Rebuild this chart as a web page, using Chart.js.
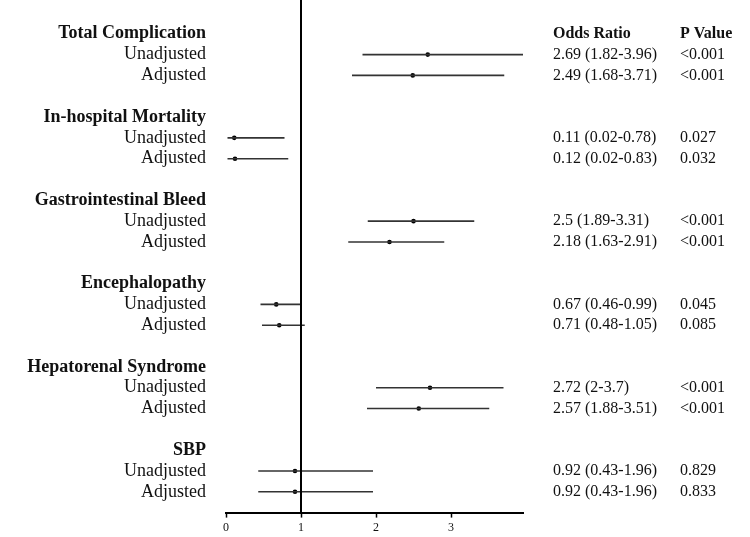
<!DOCTYPE html>
<html>
<head>
<meta charset="utf-8">
<script src="https://cdn.jsdelivr.net/npm/chart.js@4"></script>
<style>
  html, body { margin: 0; padding: 0; background: #fff; }
  #wrap { width: 750px; height: 537px; position: relative; }
</style>
</head>
<body>
<div id="wrap"><canvas id="forest"></canvas></div>
<script>
const outcomes = ["Total Complication", "In-hospital Mortality", "Gastrointestinal Bleed", "Encephalopathy", "Hepatorenal Syndrome", "SBP"];
const rowLabels = ["Unadjusted", "Adjusted"];

const unadjOR = [2.69, 0.11, 2.5, 0.67, 2.72, 0.92];
const unadjLo = [1.82, 0.02, 1.89, 0.46, 2, 0.43];
const unadjHi = [3.96, 0.78, 3.31, 0.99, 3.7, 1.96];
const unadjP = ["<0.001", "0.027", "<0.001", "0.045", "<0.001", "0.829"];

const adjOR = [2.49, 0.12, 2.18, 0.71, 2.57, 0.92];
const adjLo = [1.68, 0.02, 1.63, 0.48, 1.88, 0.43];
const adjHi = [3.71, 0.83, 2.91, 1.05, 3.51, 1.96];
const adjP = ["<0.001", "0.032", "<0.001", "0.085", "<0.001", "0.833"];

const xTicks = [0, 1, 2, 3];

// each outcome takes 4 rows: header, unadjusted, adjusted, blank
const rows = [];
outcomes.forEach((name, k) => {
  const base = k * 4;
  rows.push({ y: base, text: name, header: true });
  rows.push({ y: base + 1, text: rowLabels[0], or: unadjOR[k], lo: unadjLo[k], hi: unadjHi[k], p: unadjP[k] });
  rows.push({ y: base + 2, text: rowLabels[1], or: adjOR[k], lo: adjLo[k], hi: adjHi[k], p: adjP[k] });
});

const datasets = [];

// reference line at OR = 1, runs up to the top edge
datasets.push({
  type: "line",
  data: [{ x: 1, y: -1.7 }, { x: 1, y: 23 }],
  borderColor: "#000",
  borderWidth: 2,
  pointRadius: 0,
  clip: false
});

rows.filter((r) => !r.header).forEach((r) => {
  datasets.push({
    type: "line",
    data: [{ x: r.lo, y: r.y }, { x: r.hi, y: r.y }],
    borderColor: "#333",
    borderWidth: 1.6,
    pointRadius: 0
  });
});

datasets.push({
  type: "scatter",
  data: rows.filter((r) => !r.header).map((r) => ({ x: r.or, y: r.y })),
  backgroundColor: "#000",
  borderColor: "#000",
  pointRadius: 2.3,
  borderWidth: 0
});

const textPlugin = {
  id: "forestText",
  afterDraw(chart) {
    const ctx = chart.ctx;
    const ys = chart.scales.y;
    ctx.save();
    ctx.fillStyle = "#111";
    ctx.textBaseline = "middle";
    rows.forEach((r) => {
      const py = ys.getPixelForValue(r.y);
      ctx.textAlign = "right";
      ctx.font = (r.header ? "bold " : "") + "18px 'Liberation Serif'";
      ctx.fillText(r.text, 206, py);
      if (!r.header) {
        ctx.textAlign = "left";
        ctx.font = "16px 'Liberation Serif'";
        ctx.fillText(`${r.or} (${r.lo}-${r.hi})`, 553, py);
        ctx.fillText(r.p, 680, py);
      }
    });
    const hy = ys.getPixelForValue(0);
    ctx.textAlign = "left";
    ctx.font = "bold 16px 'Liberation Serif'";
    ctx.fillText("Odds Ratio", 553, hy);
    ctx.fillText("P Value", 680, hy);
    ctx.restore();
  }
};

new Chart(document.getElementById("forest"), {
  data: { datasets },
  options: {
    responsive: true,
    maintainAspectRatio: false,
    animation: false,
    layout: { padding: { left: 226, right: 227, top: 0, bottom: -1 } },
    plugins: { legend: { display: false }, tooltip: { enabled: false } },
    scales: {
      x: {
        type: "linear",
        min: 0,
        max: 3.96,
        afterBuildTicks: (axis) => { axis.ticks = xTicks.map((v) => ({ value: v })); },
        border: { display: true, color: "#000", width: 2 },
        grid: { drawOnChartArea: false, drawTicks: true, tickLength: 5, tickColor: "#000", tickWidth: 1.5 },
        ticks: { color: "#111", padding: 3, font: { family: "Liberation Serif", size: 12 } }
      },
      y: {
        type: "linear",
        display: false,
        reverse: true,
        min: -1.43,
        max: 23
      }
    }
  },
  plugins: [textPlugin]
});
</script>
</body>
</html>
